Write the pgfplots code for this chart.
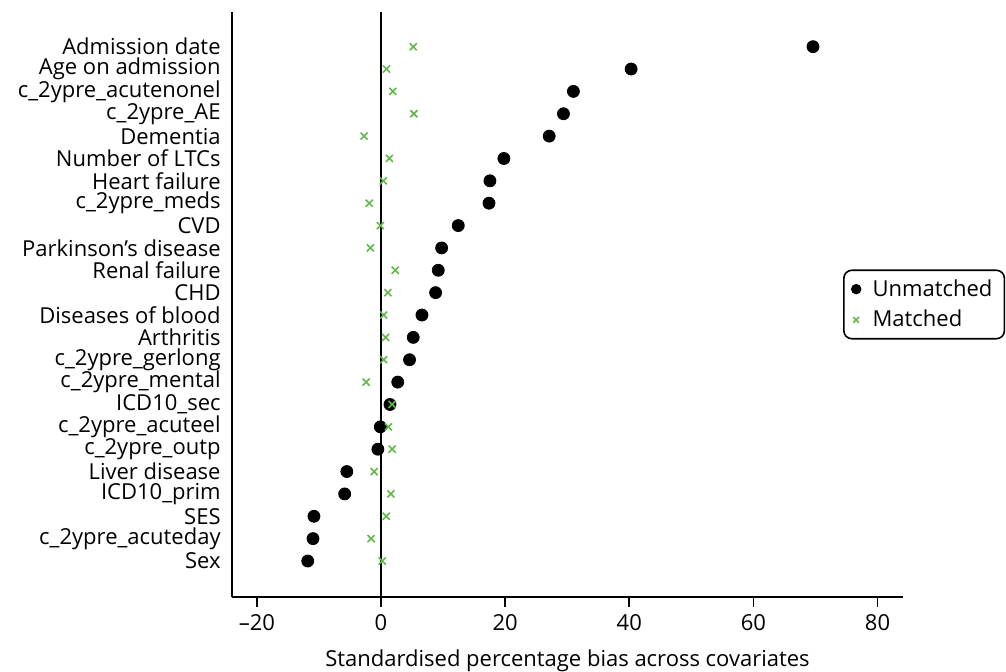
\documentclass[border=0pt]{standalone}
\usepackage{pgfplots}
\pgfplotsset{compat=1.18}
\usepackage{fontspec}
\setmainfont{Open Sans}
\definecolor{mgreen}{RGB}{98,184,72}
\begin{document}
\begin{tikzpicture}
\useasboundingbox (0,0) rectangle (503pt,335.5pt);
\begin{axis}[
  at={(116pt,37pt)}, anchor=south west,
  scale only axis, width=335.5pt, height=292.5pt,
  xmin=-24, xmax=84.1, ymin=-0.61, ymax=25.55,
  axis x line=bottom, axis y line=left,
  axis line style={-, line width=0.9pt},
  xtick={-20,0,20,40,60,80},
  xticklabels={–20,0,20,40,60,80},
  xtick align=outside, major tick length=5pt,
  x tick style={black, line width=0.8pt},
  ytick={1,...,24},
  yticklabels={Sex,c\_2ypre\_acuteday,SES,ICD10\_prim,Liver disease,c\_2ypre\_outp,c\_2ypre\_acuteel,ICD10\_sec,c\_2ypre\_mental,c\_2ypre\_gerlong,Arthritis,Diseases of blood,CHD,Renal failure,Parkinson’s disease,CVD,c\_2ypre\_meds,Heart failure,Number of LTCs,Dementia,c\_2ypre\_AE,c\_2ypre\_acutenonel,Age on admission,Admission date},
  y tick style={draw=none},
  yticklabel style={inner xsep=3pt},
  tick label style={font=\fontsize{11pt}{12pt}\selectfont},
  xlabel={Standardised percentage bias across covariates},
  xlabel style={font=\fontsize{11pt}{12pt}\selectfont, yshift=-3pt},
  legend style={at={(0.9106,0.5)}, anchor=west, draw=black, line width=0.8pt, rounded corners=4pt, font=\fontsize{11pt}{12pt}\selectfont, row sep=1.5pt, inner xsep=4pt, inner ysep=2.5pt,
    /tikz/every odd column/.append style={column sep=4pt}},
  legend cell align=left,
]
\addplot[forget plot, black, line width=0.75pt] coordinates {(0,-0.61) (0,25.55)};
\addplot[only marks, mark=*, mark size=3pt, black, legend image post style={mark size=2.2pt}] coordinates {
(-11.8,1) (-10.95,2) (-10.8,3) (-5.85,4) (-5.5,5) (-0.5,6) (-0.1,7) (1.45,8) (2.7,9) (4.6,10) (5.2,11) (6.6,12) (8.8,13) (9.23,14) (9.77,15) (12.45,16) (17.4,17) (17.55,18) (19.8,19) (27.1,20) (29.4,21) (31.0,22) (40.3,23) (69.6,24)};
\addlegendentry{Unmatched}
\addplot[only marks, mark=x, mark size=2.5pt, mgreen, line width=0.8pt, legend image post style={mark size=2pt}] coordinates {
(0.2,1) (-1.6,2) (0.85,3) (1.6,4) (-1.1,5) (1.8,6) (1.2,7) (1.8,8) (-2.4,9) (0.43,10) (0.75,11) (0.43,12) (1.1,13) (2.3,14) (-1.7,15) (-0.1,16) (-1.9,17) (0.38,18) (1.35,19) (-2.7,20) (5.3,21) (1.9,22) (0.9,23) (5.2,24)};
\addlegendentry{Matched}
\end{axis}
\end{tikzpicture}
\end{document}
